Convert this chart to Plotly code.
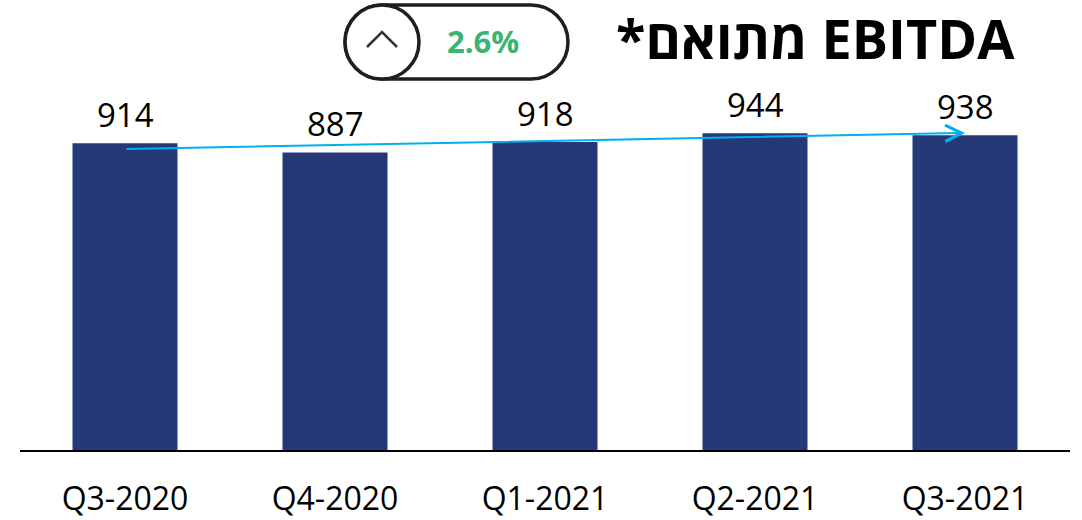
import plotly.graph_objects as go

# ---- data ----
categories = ["Q3-2020", "Q4-2020", "Q1-2021", "Q2-2021", "Q3-2021"]
values = [914, 887, 918, 944, 938]
trend_start = 897   # trend arrow start level (value units)
trend_end = 945     # trend arrow end level (value units)
change_label = "2.6%"
title_text = "*מתואם EBITDA"

BAR = "#253878"
ARROW = "#00B0F0"
GREEN = "#3CB371"
FONT = "Open Sans, DejaVu Sans, sans-serif"

W, H = 1082, 520
L, R, T, B = 20, 12, 90, 70
PW, PH = W - L - R, H - T - B


def px(x):
    return (x - L) / PW


def py(y):
    return (H - B - y) / PH


fig = go.Figure()
fig.add_trace(go.Bar(
    x=categories, y=values, marker=dict(color=BAR, line=dict(width=0)),
    hoverinfo="skip",
))

annotations = []
for c, v in zip(categories, values):
    annotations.append(dict(
        x=c, y=v, xref="x", yref="y", text=str(v), showarrow=False,
        yanchor="bottom", yshift=4, font=dict(family=FONT, size=33, color="#000000"),
    ))

# trend arrow
annotations.append(dict(
    x=categories[-1], y=trend_end, ax=categories[0], ay=trend_start,
    xref="x", yref="y", axref="x", ayref="y", text="", showarrow=True,
    arrowhead=5, arrowsize=1.6, arrowwidth=2, arrowcolor=ARROW, standoff=0,
))

# pill text
annotations.append(dict(
    x=px(483), y=py(41), xref="paper", yref="paper", text=f"<b>{change_label}</b>",
    showarrow=False, xanchor="center", yanchor="middle",
    font=dict(family=FONT, size=31, color=GREEN),
))
# title
annotations.append(dict(
    x=px(1016), y=py(0), xref="paper", yref="paper", text=f"<b>{title_text}</b>",
    showarrow=False, xanchor="right", yanchor="top", borderpad=0,
    font=dict(family=FONT, size=54, color="#000000"),
))

# pill shape (stadium)
x0, x1, top, bot = 345, 568, 5, 79
r = (bot - top) / 2
cy = (top + bot) / 2
k = 0.5523 * r


def P(x, y):
    return f"{px(x):.5f},{py(y):.5f}"


path = (
    f"M{P(x0 + r, top)} L{P(x1 - r, top)} "
    f"C{P(x1 - r + k, top)} {P(x1, cy - k)} {P(x1, cy)} "
    f"C{P(x1, cy + k)} {P(x1 - r + k, bot)} {P(x1 - r, bot)} "
    f"L{P(x0 + r, bot)} "
    f"C{P(x0 + r - k, bot)} {P(x0, cy + k)} {P(x0, cy)} "
    f"C{P(x0, cy - k)} {P(x0 + r - k, top)} {P(x0 + r, top)} Z"
)
shapes = [
    dict(type="path", xref="paper", yref="paper", path=path,
         line=dict(color="#1f1f1f", width=3.5), fillcolor="white", layer="above"),
    dict(type="circle", xref="paper", yref="paper",
         x0=px(x0), x1=px(x0 + 2 * r), y0=py(bot), y1=py(top),
         line=dict(color="#1f1f1f", width=3.5), fillcolor="white", layer="above"),
    dict(type="path", xref="paper", yref="paper",
         path=f"M{P(367, 47)} L{P(382, 32)} L{P(397, 47)}",
         line=dict(color="#333333", width=2.5), layer="above"),
]

fig.update_layout(
    width=W, height=H,
    margin=dict(l=L, r=R, t=T, b=B, pad=0, autoexpand=False),
    paper_bgcolor="white", plot_bgcolor="white",
    bargap=0.5, showlegend=False,
    xaxis=dict(showgrid=False, zeroline=False, showline=True, linecolor="#000000",
               linewidth=1.5, ticks="", ticklabelstandoff=20, automargin=False,
               tickfont=dict(family=FONT, size=32, color="#000000"), fixedrange=True),
    yaxis=dict(range=[0, 1073], showgrid=False, zeroline=False, showline=False,
               showticklabels=False, ticks="", fixedrange=True, automargin=False),
    annotations=annotations, shapes=shapes,
)

fig.write_html(
    "out.html",
    config={"displayModeBar": False, "staticPlot": True},
    post_script="document.body.style.margin='0';document.body.style.overflow='hidden';",
)
